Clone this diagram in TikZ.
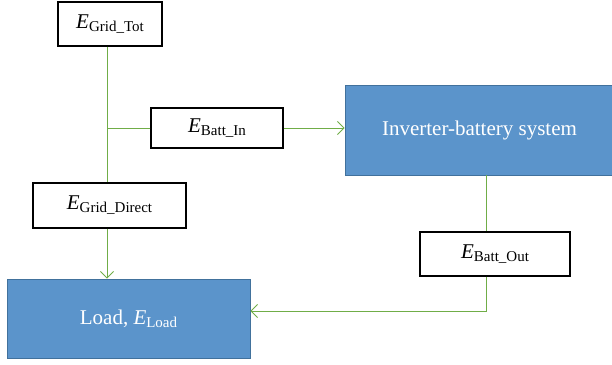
\documentclass[tikz,border=0pt]{standalone}
\usepackage{fontspec}
\setmainfont{Liberation Serif}
\usetikzlibrary{arrows.meta}

\definecolor{flowgreen}{HTML}{70AD47}
\definecolor{sysblue}{HTML}{5B94CB}
\definecolor{sysedge}{HTML}{41719C}
\newcommand{\en}[1]{\textit{E}\raisebox{-0.32ex}{\fontsize{15}{17}\selectfont #1}}

\tikzset{
  valbox/.style={draw=black, line width=1.1pt, fill=white, inner sep=0pt,
    font=\fontsize{21}{25}\selectfont},
  sysbox/.style={draw=sysedge, line width=0.8pt, fill=sysblue, text=white,
    inner sep=0pt, font=\fontsize{21}{25}\selectfont},
  flow/.style={draw=flowgreen, line width=0.9pt},
  flowarr/.style={flow, -{Straight Barb[length=6.5pt,width=13pt]}}
}

\begin{document}
\begin{tikzpicture}[x=1pt,y=-1pt]
\useasboundingbox (0,0) rectangle (612,364);
% boxes
\node[valbox, minimum width=104pt, minimum height=44pt] (tot) at (110,24) {\en{Grid\_Tot}};
\node[valbox, minimum width=132pt, minimum height=40pt] (battin) at (217,128) {\en{Batt\_In}};
\node[valbox, minimum width=153pt, minimum height=45pt] (direct) at (109.5,205.5) {\en{Grid\_Direct}};
\node[valbox, minimum width=150pt, minimum height=44pt] (battout) at (495,254) {\en{Batt\_Out}};
\node[sysbox, minimum width=269pt, minimum height=90pt] (inv) at (479.5,130) {Inverter-battery system};
\node[sysbox, minimum width=243pt, minimum height=79pt] (load) at (128.5,318.5) {Load, \en{Load}};
% connectors
\coordinate (trunk) at (107,0);
\coordinate (ret) at (486,311);
\draw[flow] (tot.south -| trunk) -- (direct.north -| trunk);
\draw[flow] (battin.west) -- (battin.west -| trunk);
\draw[flowarr] (battin.east) -- (battin.east -| inv.west);
\draw[flowarr] (direct.south -| trunk) -- (load.north -| trunk);
\draw[flow] (inv.south -| ret) -- (battout.north -| ret);
\draw[flowarr] (battout.south -| ret) -- (ret) -- (ret -| load.east);
\end{tikzpicture}
\end{document}
